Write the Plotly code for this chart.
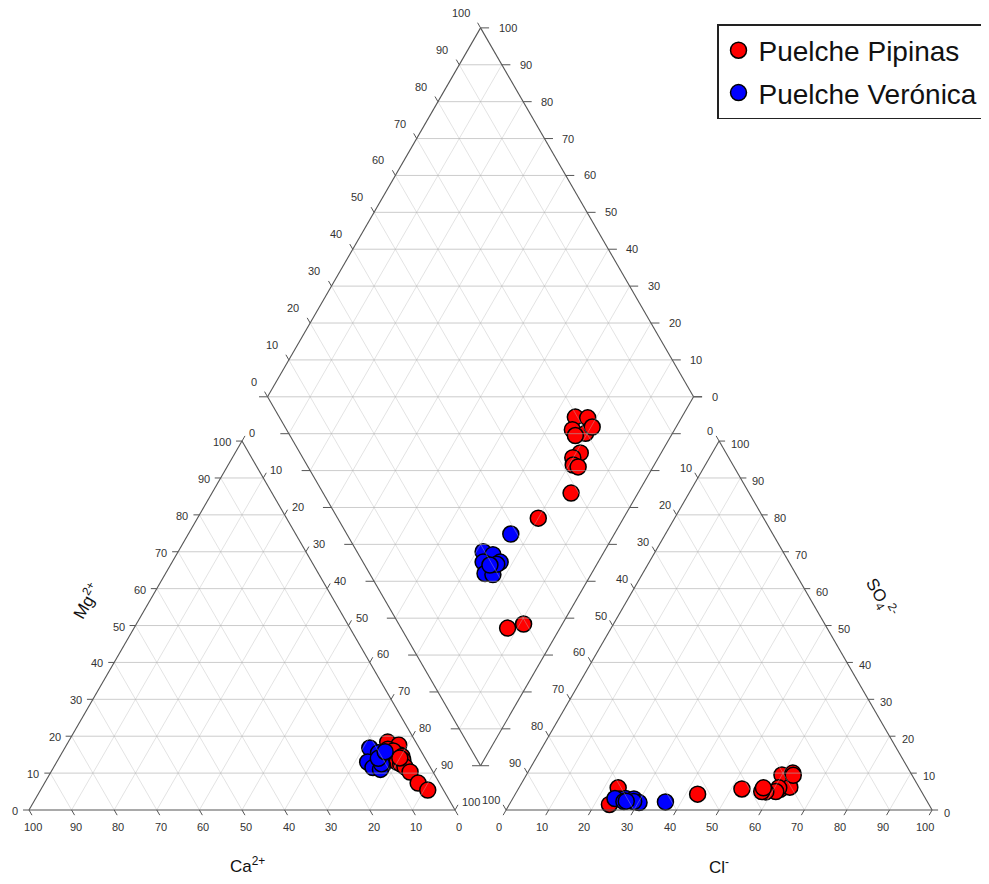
import numpy as np
import plotly.graph_objects as go

# ---------------- data (% of meq/L) ----------------
pip_ca   = [6.6, 4.4, 7.5, 5.5, 6.5, 5.2, 5.5, 7.1, 6.5, 5.9, 5.4, 5.9, 5.0, 3.7]
pip_mg   = [18.4, 17.6, 16.5, 14.9, 16.0, 14.5, 13.5, 13.0, 12.5, 11.7, 10.3, 14.1, 7.3, 5.4]
pip_nak  = [75.0, 78.0, 76.0, 79.6, 77.5, 80.3, 81.0, 79.9, 81.0, 82.4, 84.3, 80.0, 87.7, 90.9]
pip_hco3 = [30.5, 27.7, 32.9, 30.3, 33.0, 27.9, 34.2, 36.6, 37.5, 36.6, 41.8, 52.9, 75.0, 70.7]
pip_so4  = [9.5, 10.0, 5.6, 6.2, 6.0, 9.4, 5.0, 4.9, 5.0, 6.0, 5.7, 4.3, 1.5, 6.0]
pip_cl   = [60.0, 62.3, 61.5, 63.5, 61.0, 62.7, 60.8, 58.5, 57.5, 57.4, 52.5, 42.8, 23.5, 23.3]

ver_ca   = [11.6, 10.2, 11.0, 14.0, 13.5, 12.0, 11.0, 11.0, 8.5]
ver_mg   = [16.8, 15.5, 12.0, 13.0, 11.5, 11.0, 12.5, 14.0, 15.8]
ver_nak  = [71.6, 74.3, 77.0, 73.0, 75.0, 77.0, 76.5, 75.0, 75.7]
ver_hco3 = [70.4, 68.5, 67.8, 71.8, 72.9, 71.2, 68.9, 70.6, 61.5]
ver_so4  = [3.1, 3.0, 2.0, 3.0, 3.1, 2.3, 2.3, 2.4, 2.2]
ver_cl   = [26.5, 28.5, 30.2, 25.2, 24.0, 26.5, 28.8, 27.0, 36.3]

series_names = ["Puelche Pipinas", "Puelche Verónica"]
series_colors = ["#ff0000", "#0000ff"]
tick_values = list(range(0, 101, 10))

# ---------------- Piper geometry (triangle side = 100 units) ----------------
H = np.sqrt(3) / 2
GAP = 12.0
S = 4.26  # pixels per unit
FONT = "Liberation Sans, Arial, sans-serif"

def cation_xy(mg, nak):
    mg, nak = np.asarray(mg), np.asarray(nak)
    return nak + 0.5 * mg, H * mg

def anion_xy(so4, cl):
    so4, cl = np.asarray(so4), np.asarray(cl)
    return 100 + GAP + cl + 0.5 * so4, H * so4

Bv = np.array([100 + GAP / 2, H * GAP])
Lv = Bv + np.array([-50, 100 * H])
Tv = Bv + np.array([0, 200 * H])
Rv = Bv + np.array([50, 100 * H])

def diamond_xy(nak, so4, cl):
    a = np.asarray(nak) / 100.0
    c = (np.asarray(so4) + np.asarray(cl)) / 100.0
    return Lv[0] + 50 * (a + c), Lv[1] + 100 * H * (c - a)

C0, C1, C2 = np.array([0, 0]), np.array([100, 0]), np.array([50, 100 * H])
A0, A1, A2 = np.array([100 + GAP, 0]), np.array([200 + GAP, 0]), np.array([150 + GAP, 100 * H])

def seg_lists(segs):
    xs, ys = [], []
    for p, q in segs:
        xs += [p[0], q[0], None]
        ys += [p[1], q[1], None]
    return xs, ys

horiz, diag = [], []
for V0, V1, V2 in [(C0, C1, C2), (A0, A1, A2)]:
    for k in range(1, 10):
        t = k / 10
        horiz.append((V0 + t * (V2 - V0), V1 + t * (V2 - V1)))
        diag.append((V0 + t * (V1 - V0), V2 + t * (V1 - V2)))
        diag.append((V0 + t * (V1 - V0), V0 + t * (V2 - V0)))
for k in range(1, 20):
    w = 5 * k if k <= 10 else 5 * (20 - k)
    yy = Bv[1] + k * 10 * H
    horiz.append((np.array([Bv[0] - w, yy]), np.array([Bv[0] + w, yy])))
for k in range(1, 10):
    t = k / 10
    diag.append((Lv + t * (Bv - Lv), Tv + t * (Rv - Tv)))
    diag.append((Lv + t * (Tv - Lv), Bv + t * (Rv - Bv)))

edges = [(C0, C1), (C1, C2), (C2, C0), (A0, A1), (A1, A2), (A2, A0),
         (Lv, Tv), (Tv, Rv), (Rv, Bv), (Bv, Lv)]

TL = 1.4
ticks = []
ann = []

def add_label(p, text, xanchor, xshift, yshift):
    ann.append(dict(x=p[0], y=p[1], text=text, showarrow=False, xanchor=xanchor,
                    yanchor="middle", xshift=xshift, yshift=yshift,
                    font=dict(family=FONT, size=11, color="#333333")))

up_right = np.array([0.5, H])
up_left = np.array([-0.5, H])
for v in tick_values:
    t = v / 100
    p = C0 + (1 - t) * (C1 - C0)          # Ca (bottom, 100 at left)
    ticks.append((p, p - up_left * TL))
    add_label(p, str(v), "center", 4, -17)
    p = C0 + t * (C2 - C0)                # Mg (left edge)
    ticks.append((p, p + np.array([-TL, 0])))
    add_label(p, str(v), "right", -9, -1)
    p = C2 + t * (C1 - C2)                # Na+K (right edge, 0 at top)
    ticks.append((p, p + up_right * TL))
    add_label(p, str(v), "left", 5, 8)
    p = A0 + t * (A1 - A0)                # Cl (bottom)
    ticks.append((p, p - up_right * TL))
    add_label(p, str(v), "center", -7, -17)
    p = A1 + t * (A2 - A1)                # SO4 (right edge)
    ticks.append((p, p + np.array([TL, 0])))
    add_label(p, str(v), "left", 10, -3)
    p = A2 + t * (A0 - A2)                # HCO3 (left edge, 0 at top)
    ticks.append((p, p + up_left * TL))
    add_label(p, str(v), "right", -4, 10)
    p = Lv + t * (Tv - Lv)                # diamond SO4+Cl
    ticks.append((p, p + up_left * TL))
    add_label(p, str(v), "right", -9, 15)
    p = Rv + t * (Tv - Rv)                # diamond Ca+Mg
    ticks.append((p, p + np.array([2.0, 0])))
    add_label(p, str(v), "left", 16, 0)
    p = Lv + t * (Bv - Lv)
    ticks.append((p, p + np.array([-2.0, 0])))
    p = Rv + t * (Bv - Rv)
    ticks.append((p, p + np.array([2.0, 0])))

title_font = dict(family=FONT, size=17, color="#111111")
mid_left = (C0 + C2) / 2
mid_cbot = (C0 + C1) / 2
mid_abot = (A0 + A1) / 2
mid_aright = (A1 + A2) / 2
ann.append(dict(x=mid_left[0], y=mid_left[1], text="Mg<sup>2+</sup>", showarrow=False,
                textangle=-60, xshift=-50, yshift=25, font=title_font))
ann.append(dict(x=mid_cbot[0], y=mid_cbot[1], text="Ca<sup>2+</sup>", showarrow=False,
                xshift=5, yshift=-55, font=title_font))
ann.append(dict(x=mid_abot[0], y=mid_abot[1], text="Cl<sup>-</sup>", showarrow=False,
                xshift=0, yshift=-56, font=title_font))
ann.append(dict(x=mid_aright[0], y=mid_aright[1], text="SO<sub>4</sub><sup>2-</sup>", showarrow=False,
                textangle=60, xshift=55, yshift=28, font=title_font))

fig = go.Figure()

groups = [
    (pip_mg, pip_nak, pip_so4, pip_cl),
    (ver_mg, ver_nak, ver_so4, ver_cl),
]
for (mg, nak, so4, cl), name, col in zip(groups, series_names, series_colors):
    cx, cy = cation_xy(mg, nak)
    ax_, ay_ = anion_xy(so4, cl)
    dx, dy = diamond_xy(nak, so4, cl)
    fig.add_trace(go.Scatter(
        x=np.concatenate([cx, ax_, dx]), y=np.concatenate([cy, ay_, dy]),
        mode="markers", name=name, legendgroup=name,
        marker=dict(size=16, color=col, line=dict(color="black", width=1.5)),
        hoverinfo="skip"))

hx, hy = seg_lists(horiz)
gx, gy = seg_lists(diag)
fig.add_trace(go.Scatter(x=gx, y=gy, mode="lines", showlegend=False, hoverinfo="skip",
                         line=dict(color="rgba(185,185,185,0.40)", width=1)))
fig.add_trace(go.Scatter(x=hx, y=hy, mode="lines", showlegend=False, hoverinfo="skip",
                         line=dict(color="rgba(170,170,170,0.6)", width=1)))
tx, ty = seg_lists(ticks)
fig.add_trace(go.Scatter(x=tx, y=ty, mode="lines", showlegend=False, hoverinfo="skip",
                         line=dict(color="#555555", width=1)))
ex, ey = seg_lists(edges)
fig.add_trace(go.Scatter(x=ex, y=ey, mode="lines", showlegend=False, hoverinfo="skip",
                         line=dict(color="#555555", width=1.1)))

# page body has an 8px margin: figure is placed at (8, 8) in the window
OFF = 8
W, Hh = 989 - OFF, 884 - 2 * OFF
x0_px, y0_px = 29 - OFF, 810 - OFF
fig.update_layout(
    width=W, height=Hh, autosize=False,
    margin=dict(l=0, r=0, t=0, b=0),
    paper_bgcolor="white", plot_bgcolor="white",
    xaxis=dict(visible=False, range=[-x0_px / S, (W - x0_px) / S]),
    yaxis=dict(visible=False, range=[-(Hh - y0_px) / S, y0_px / S]),
    annotations=ann,
    showlegend=True,
    legend=dict(x=(717 - OFF) / W, y=1 - (24 - OFF) / Hh, xanchor="left", yanchor="top",
                bgcolor="white", bordercolor="#222222", borderwidth=1.5,
                font=dict(family=FONT, size=28, color="#111111"),
                traceorder="grouped", tracegroupgap=3),
)

fig.write_html("out.html")
